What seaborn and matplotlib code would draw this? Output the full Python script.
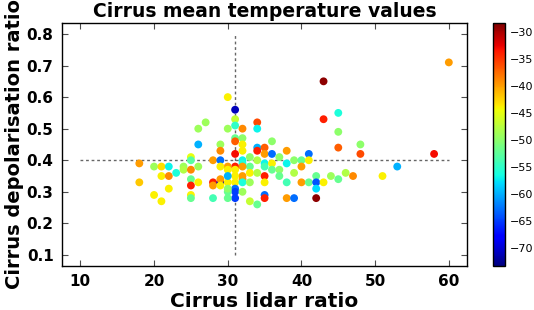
import seaborn as sns
import matplotlib.pyplot as plt
import matplotlib as mpl
import pandas as pd
import numpy as np

# Cirrus lidar ratio, depolarisation ratio and mean temperature (deg C)
lidar_ratio = [
    18, 18, 20, 21, 22, 21, 22, 23, 24, 24, 25, 25, 25, 25, 25, 25, 25, 26, 26, 26,
    26, 27, 20, 21, 22, 30, 31, 31, 31, 30, 34, 34, 32, 31, 32, 31, 32, 29, 36, 29,
    32, 31, 34, 34, 35, 35, 36, 38, 41, 37, 28, 29, 32, 32, 34, 35, 35, 36, 38, 39,
    40, 41, 36, 37, 40, 39, 37, 33, 33, 34, 35, 31, 31, 30, 30, 29, 32, 32, 28, 28,
    29, 29, 30, 31, 31, 31, 31, 32, 32, 32, 33, 35, 38, 40, 41, 42, 42, 42, 42, 43,
    44, 45, 46, 28, 30, 33, 34, 35, 35, 38, 39, 43, 43, 45, 45, 45, 60, 48, 48, 58,
    53, 51, 47, 30, 30, 29, 31, 30, 33,
]
depol_ratio = [
    0.39, 0.33, 0.38, 0.38, 0.38, 0.35, 0.35, 0.36, 0.38, 0.37, 0.41, 0.40, 0.37, 0.34, 0.32, 0.29, 0.28, 0.38, 0.33, 0.45,
    0.50, 0.52, 0.29, 0.27, 0.31, 0.60, 0.56, 0.53, 0.51, 0.50, 0.52, 0.50, 0.50, 0.47, 0.47, 0.46, 0.45, 0.45, 0.46, 0.43,
    0.43, 0.42, 0.44, 0.43, 0.44, 0.42, 0.42, 0.43, 0.42, 0.41, 0.40, 0.40, 0.40, 0.39, 0.40, 0.39, 0.38, 0.39, 0.39, 0.40,
    0.40, 0.40, 0.37, 0.37, 0.38, 0.36, 0.35, 0.38, 0.36, 0.36, 0.35, 0.38, 0.37, 0.38, 0.37, 0.38, 0.38, 0.35, 0.33, 0.32,
    0.33, 0.34, 0.33, 0.33, 0.31, 0.30, 0.28, 0.34, 0.33, 0.30, 0.33, 0.33, 0.33, 0.33, 0.33, 0.35, 0.33, 0.31, 0.28, 0.33,
    0.35, 0.34, 0.36, 0.28, 0.28, 0.27, 0.26, 0.29, 0.28, 0.28, 0.28, 0.65, 0.53, 0.55, 0.49, 0.44, 0.71, 0.45, 0.42, 0.42,
    0.38, 0.35, 0.35, 0.30, 0.31, 0.32, 0.35, 0.35, 0.41,
]
temperature = [
    -40, -42, -49, -43, -57, -44, -39, -56, -49, -48, -45, -53, -39, -52, -34, -44, -52, -49, -44, -60,
    -49, -49, -44, -44, -44, -44, -71, -47, -55, -49, -36, -57, -39, -52, -50, -37, -44, -49, -50, -39,
    -44, -33, -60, -34, -37, -40, -63, -40, -63, -50, -40, -63, -57, -56, -48, -57, -54, -44, -57, -50,
    -52, -44, -52, -50, -40, -48, -52, -52, -44, -48, -34, -34, -44, -40, -44, -44, -40, -40, -34, -40,
    -71, -40, -44, -44, -63, -65, -65, -40, -56, -49, -49, -44, -54, -40, -52, -52, -64, -58, -29, -44,
    -49, -52, -48, -54, -52, -47, -52, -63, -34, -40, -63, -29, -34, -56, -50, -37, -40, -50, -36, -33,
    -60, -44, -39, -52, -50, -44, -44, -60, -50,
]

t_min, t_max = -73.4, -28.4

df = pd.DataFrame({"lidar": lidar_ratio, "depol": depol_ratio, "temp": temperature})

sns.set_style("white")
plt.rcParams.update({
    "xtick.direction": "in", "ytick.direction": "in",
    "xtick.bottom": True, "ytick.left": True,
    "xtick.top": True, "ytick.right": True,
    "xtick.major.size": 4, "ytick.major.size": 4,
    "xtick.color": "black", "ytick.color": "black",
    "text.color": "black", "axes.labelcolor": "black",
    "axes.edgecolor": "black", "axes.linewidth": 1.0,
})
plt.rcParams["font.family"] = ["DejaVu Sans"]

jet = mpl.colormaps["jet"]

fig = plt.figure(figsize=(5.34, 3.10), dpi=100)
ax = fig.add_axes([0.116, 0.142, 0.759, 0.784])
cax = fig.add_axes([0.923, 0.142, 0.023, 0.784])

sns.scatterplot(data=df, x="lidar", y="depol", hue="temp", palette=jet,
                hue_norm=(t_min, t_max), s=32, linewidth=0, legend=False, ax=ax)

ax.plot([10, 60], [0.4, 0.4], ls=(0, (2, 2)), color="0.4", lw=1.0, zorder=0)
ax.plot([31, 31], [0.1, 0.8], ls=(0, (2, 2)), color="0.4", lw=1.0, zorder=0)

ax.set_xlim(7.5, 62.5)
ax.set_ylim(0.065, 0.835)
ax.set_xticks([10, 20, 30, 40, 50, 60])
ax.set_yticks([0.1, 0.2, 0.3, 0.4, 0.5, 0.6, 0.7, 0.8])
for lab in ax.get_xticklabels() + ax.get_yticklabels():
    lab.set_fontsize(11)
    lab.set_fontweight("bold")
ax.tick_params(pad=6, color="0.3")

ax.set_title("Cirrus mean temperature values", fontsize=13.5, fontweight="bold", pad=4)
ax.set_xlabel("Cirrus lidar ratio", fontsize=14.5, fontweight="bold", labelpad=2)
ax.set_ylabel("Cirrus depolarisation ratio", fontsize=14, fontweight="bold", labelpad=2)

sm = mpl.cm.ScalarMappable(norm=mpl.colors.Normalize(t_min, t_max), cmap=jet)
cb = fig.colorbar(sm, cax=cax)
cb.set_ticks([-30, -35, -40, -45, -50, -55, -60, -65, -70])
cb.ax.tick_params(labelsize=8, direction="in", length=4, right=True, left=False,
                  colors="black")
cb.outline.set_linewidth(1.0)

fig.savefig("out.png", dpi=100)
